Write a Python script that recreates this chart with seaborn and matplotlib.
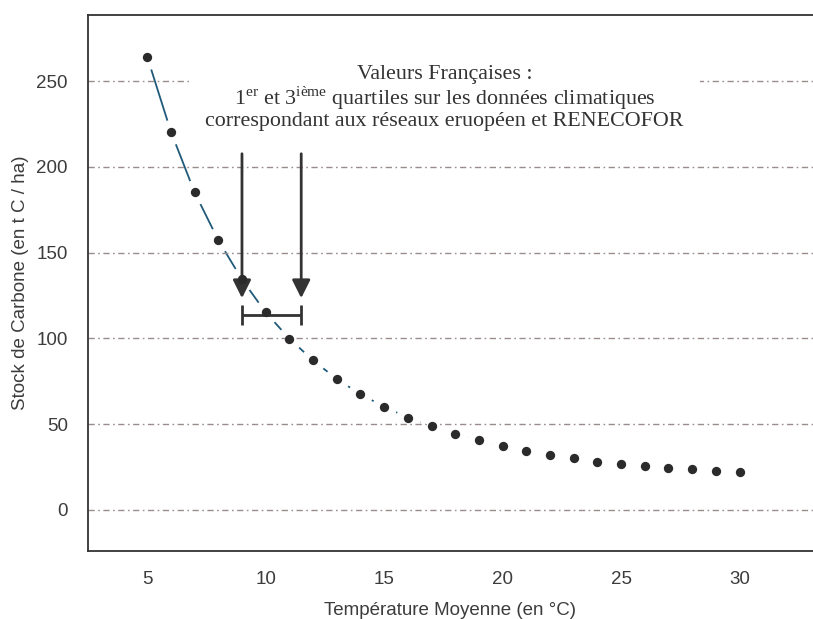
import numpy as np
import pandas as pd
import seaborn as sns
import matplotlib.pyplot as plt

# données
temperature = [5, 6, 7, 8, 9, 10, 11, 12, 13, 14, 15, 16, 17, 18, 19, 20,
               21, 22, 23, 24, 25, 26, 27, 28, 29, 30]
stock_carbone = [264.1, 220.5, 185.1, 157.2, 134.3, 115.1, 99.8, 87.1, 76.3,
                 67.4, 60.1, 53.8, 48.6, 44.4, 40.5, 37.2, 34.3, 32.2, 30.0,
                 28.1, 26.9, 25.6, 24.6, 23.6, 22.4, 22.1]
quartiles = [9, 11.5]
arrow_top = 207.6
arrow_tip = 123.4
bracket_y = 113.5
bracket_half = 5.8
y_ticks = [0, 50, 100, 150, 200, 250]
x_ticks = [5, 10, 15, 20, 25, 30]

df = pd.DataFrame({'temp': temperature, 'stock': stock_carbone})

sns.set_style('white')
plt.rcParams['font.family'] = ['Liberation Sans', 'DejaVu Sans']
plt.rcParams['mathtext.fontset'] = 'custom'
plt.rcParams['mathtext.rm'] = 'Liberation Serif'

dark = '#333333'
fig = plt.figure(figsize=(8.13, 6.19), dpi=100)
ax = fig.add_axes([0.1082, 0.1099, 0.8918, 0.8659])

# lignes de grille pointillées
for yv in y_ticks:
    ax.axhline(yv, color='#9a8c8c', lw=1.0, dashes=(4.5, 2.5, 1.2, 2.5), zorder=2.5)

# courbe + trous autour des points
sns.lineplot(data=df, x='temp', y='stock', color='#1f5a7a', lw=1.3, ax=ax, zorder=1)
sns.scatterplot(data=df, x='temp', y='stock', color='white', s=330, linewidth=0,
                ax=ax, zorder=2)
sns.scatterplot(data=df, x='temp', y='stock', color='#2b2b2b', s=45, linewidth=0,
                ax=ax, zorder=7)

# flèches des quartiles
for q in quartiles:
    ax.annotate('', xy=(q, arrow_tip), xytext=(q, arrow_top),
                arrowprops=dict(arrowstyle='-|>,head_length=1.0,head_width=0.5',
                                lw=2, color=dark, shrinkA=0, shrinkB=0,
                                mutation_scale=11),
                zorder=5)
ax.hlines(bracket_y, quartiles[0], quartiles[1], color=dark, lw=2, zorder=5)
ax.vlines(quartiles, bracket_y - bracket_half, bracket_y + bracket_half,
          color=dark, lw=2, zorder=5)

ax.text(17.55, 240,
        'Valeurs Françaises :\n'
        r'1$^{\mathrm{er}}$ et 3$^{\mathrm{ième}}$ quartiles sur les données climatiques' '\n'
        'correspondant aux réseaux eruopéen et RENECOFOR',
        ha='center', va='center', fontsize=15.8, family='Liberation Serif',
        color=dark, linespacing=1.02, zorder=6,
        bbox=dict(facecolor='white', edgecolor='none', pad=12))

ax.set_xlim(2.5, 33.1)
ax.set_ylim(-24, 288.5)
ax.set_xticks(x_ticks)
ax.set_yticks(y_ticks)
ax.tick_params(axis='both', direction='out', length=6.5, width=1, color=dark,
               labelsize=13.5, labelcolor='#3c3c3c', pad=8)
ax.set_xlabel('Température Moyenne (en °C)', fontsize=13.5, color='#3c3c3c', labelpad=10)
ax.set_ylabel('Stock de Carbone (en t C / ha)', fontsize=13.5, color='#3c3c3c', labelpad=5)

for side in ['left', 'top', 'bottom']:
    ax.spines[side].set_color(dark)
    ax.spines[side].set_linewidth(1.3)
ax.spines['right'].set_visible(False)

fig.savefig('out.png', dpi=100)
